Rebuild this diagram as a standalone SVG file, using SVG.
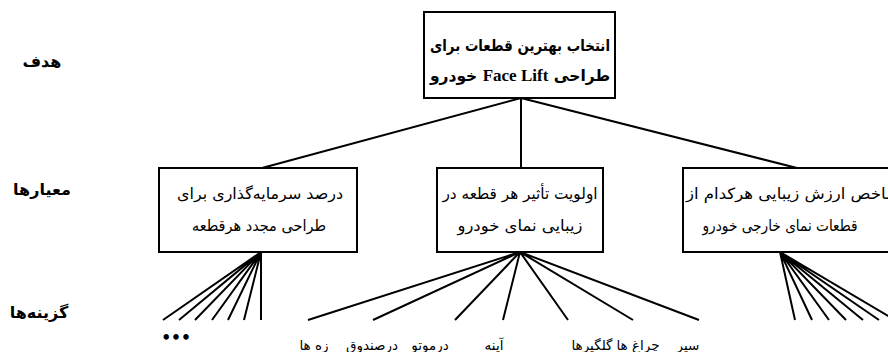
<svg xmlns="http://www.w3.org/2000/svg" width="888" height="352" viewBox="0 0 888 352">
<style>
.box{fill:#fff;stroke:#000;stroke-width:2}
.ln{stroke:#000;stroke-width:2;fill:none}
.t{font-family:"DejaVu Sans",sans-serif;font-size:15.5px;fill:#000;text-anchor:middle;direction:rtl}
.b{font-weight:bold}
.lv{font-size:16px;font-weight:bold}
.lab{font-family:"DejaVu Sans",sans-serif;font-size:13.5px;fill:#000;text-anchor:middle;direction:rtl}
.fl{font-family:"Liberation Serif",serif;font-weight:bold;font-size:17px}
</style>
<rect width="888" height="352" fill="#fff"/>
<g id="levels">
<text class="t lv" x="42" y="67">هدف</text>
<text class="t lv" x="42" y="195">معیارها</text>
<text class="t lv" x="39" y="318">گزینه‌ها</text>
</g>
<g id="connectors">
<path class="ln" d="M521 98L262 168M521 98L521 168M521 98L797 168"/>
<path class="ln" d="M261 252L163 320M261 252L179 320M261 252L195 320M261 252L212 320M261 252L228 320M261 252L244 320M261 252L261 320"/>
<path class="ln" d="M520 252L308 320M520 252L373 320M520 252L455 320M520 252L503 320M520 252L568 320M520 252L633 320M520 252L699 320"/>
<path class="ln" d="M780 252L795 320M780 252L812 320M780 252L829 320M780 252L846 320M780 252L863 320M780 252L879 320M780 252L895 320"/>
</g>
<g id="goal">
<rect class="box" x="424" y="12" width="191" height="86"/>
<text class="t b" x="520" y="51" font-size="15" textLength="180" lengthAdjust="spacingAndGlyphs">انتخاب بهترین قطعات برای</text>
<text class="t b" x="520" y="81" font-size="14.5">طراحی <tspan class="fl">Face Lift</tspan> خودرو</text>
</g>
<g id="c1">
<rect class="box" x="159" y="168" width="198" height="84"/>
<text class="t" x="260" y="199" textLength="166" lengthAdjust="spacingAndGlyphs">درصد سرمایه‌گذاری برای</text>
<text class="t" x="259" y="231" textLength="134" lengthAdjust="spacingAndGlyphs">طراحی مجدد هرقطعه</text>
</g>
<g id="c2">
<rect class="box" x="437" y="168" width="166" height="84"/>
<text class="t" x="520" y="199" textLength="155" lengthAdjust="spacingAndGlyphs">اولویت تأثیر هر قطعه در</text>
<text class="t" x="520" y="231" textLength="125" lengthAdjust="spacingAndGlyphs">زیبایی نمای خودرو</text>
</g>
<g id="c3">
<rect class="box" x="683" y="168" width="220" height="84"/>
<text class="t" x="793" y="199" textLength="214" lengthAdjust="spacingAndGlyphs">شاخص ارزش زیبایی هرکدام از</text>
<text class="t" x="780" y="231" textLength="155" lengthAdjust="spacingAndGlyphs">قطعات نمای خارجی خودرو</text>
</g>
<g id="alternatives">
<text class="t b" x="176" y="343" font-size="14">•••</text>
<text class="lab" x="314" y="350">زه ها</text>
<text class="lab" x="372" y="350">درصندوق</text>
<text class="lab" x="430" y="350">درموتو</text>
<text class="lab" x="494" y="350">آینه</text>
<text class="lab" x="592" y="350">گلگیرها</text>
<text class="lab" x="638" y="350">چراغ ها</text>
<text class="lab" x="688" y="350">سپر</text>
</g>
</svg>
